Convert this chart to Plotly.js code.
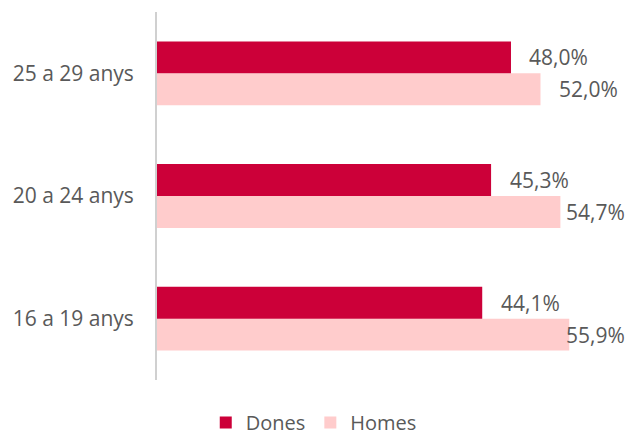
<!DOCTYPE html>
<html>
<head>
<meta charset="utf-8">
<script src="https://cdn.plot.ly/plotly-3.0.1.min.js"></script>
<style>html,body{margin:0;padding:0;background:#fff;}#chart{width:625px;height:442px;}</style>
</head>
<body>
<div id="chart"></div>
<script>
const categories = ['16 a 19 anys', '20 a 24 anys', '25 a 29 anys'];
const dones = [44.1, 45.3, 48.0];
const homes = [55.9, 54.7, 52.0];
const seriesNames = ['Dones', 'Homes'];

const textColor = '#595959';
const fontFamily = '"Open Sans", "Noto Sans", sans-serif';
const labelSize = 21;
const labelGap = 16.5;      // px between bar end and its label
const labelMaxRight = 622;  // labels are kept inside the chart area
const labelWidth = 58;      // approx. width of a "NN,N%" label
const barOffset = 16;       // px from category centre to each bar centre

const traces = [
  {
    type: 'bar', orientation: 'h', name: seriesNames[1],
    y: categories, x: homes,
    marker: {color: '#FFCCCC'},
    hoverinfo: 'skip'
  },
  {
    type: 'bar', orientation: 'h', name: seriesNames[0],
    y: categories, x: dones,
    marker: {color: '#CC0039'},
    hoverinfo: 'skip'
  }
];

const layout = {
  width: 625, height: 442,
  margin: {l: 157, r: 0, t: 11.5, b: 61.5},
  paper_bgcolor: '#ffffff', plot_bgcolor: '#ffffff',
  separators: ',.',
  barmode: 'group', bargap: 0.48, bargroupgap: 0,
  font: {family: fontFamily, color: textColor, size: 20},
  xaxis: {range: [0, 63.46], visible: false, showgrid: false, zeroline: false, fixedrange: true},
  yaxis: {
    type: 'category', range: [-0.5, 2.5],
    showline: true, linecolor: '#D0D0D0', linewidth: 2,
    showgrid: false, zeroline: false, ticks: '',
    ticklabelstandoff: 17,
    tickfont: {size: 21, color: textColor, family: fontFamily},
    fixedrange: true
  },
  showlegend: true,
  legend: {
    orientation: 'h', traceorder: 'reversed',
    xref: 'container', yref: 'container',
    x: 0.502, xanchor: 'center', y: -0.015, yanchor: 'bottom',
    borderwidth: 0,
    font: {size: 20, color: textColor, family: fontFamily},
    bgcolor: 'rgba(0,0,0,0)'
  }
};

function fmt(v) { return v.toFixed(1).replace('.', ',') + '%'; }

Plotly.newPlot('chart', traces, layout, {displayModeBar: false, staticPlot: true}).then(function (gd) {
  const xa = gd._fullLayout.xaxis;
  const annotations = [];
  function addLabels(values, shiftY) {
    values.forEach(function (v, i) {
      const endPx = xa._offset + xa.l2p(v);
      let shift = labelGap;
      if (endPx + labelGap + labelWidth > labelMaxRight) {
        shift = labelMaxRight - labelWidth - endPx;
      }
      annotations.push({
        xref: 'x', yref: 'y', x: v, y: categories[i],
        xanchor: 'left', yanchor: 'middle',
        xshift: shift, yshift: shiftY,
        text: fmt(v), showarrow: false,
        font: {size: labelSize, color: textColor, family: fontFamily}
      });
    });
  }
  addLabels(dones, barOffset);
  addLabels(homes, -barOffset);
  return Plotly.relayout(gd, {annotations: annotations});
});
</script>
</body>
</html>
